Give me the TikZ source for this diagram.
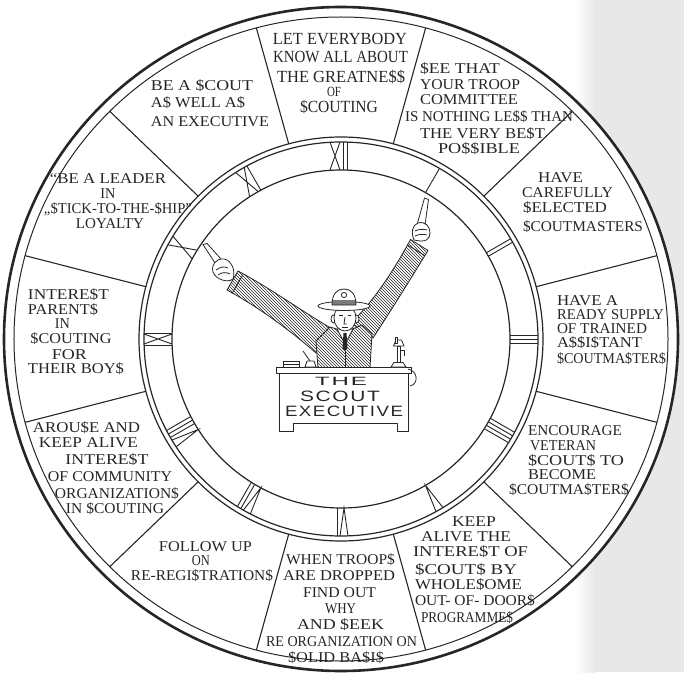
\documentclass[tikz,border=0pt]{standalone}
\usepackage{fontspec}
\usepackage{graphicx}
\setmainfont{Liberation Serif}
\newfontfamily\desksans[LetterSpace=8]{Liberation Sans}
\usetikzlibrary{patterns}

\definecolor{ink}{HTML}{262626}
\definecolor{pagegrey}{HTML}{E8E8E8}

\tikzset{
  rim/.style={draw=ink, line width=2.6pt},
  rimin/.style={draw=ink, line width=1.0pt},
  ringline/.style={draw=ink, line width=1.2pt},
  divider/.style={draw=ink, line width=1.1pt},
  numstroke/.style={draw=ink, line width=0.9pt},
  segtext/.style={anchor=base, inner sep=0pt, outer sep=0pt, text=ink, text depth=0pt,
    font=\fontsize{15}{15}\selectfont},
  desktext/.style={anchor=base, inner sep=0pt, outer sep=0pt, text=ink, text depth=0pt,
    font=\desksans\fontsize{15}{15}\selectfont},
  figline/.style={draw=ink, line width=0.8pt, line join=round},
  sleeve/.style={figline, preaction={fill=white}, pattern=north west lines, pattern color=ink},
  plain/.style={figline, fill=white},
}

% stretch a line of lettering to a given width, keeping its height
\newsavebox\segbox
\newcommand\fitw[2]{\sbox\segbox{#2}\scalebox{\fpeval{(#1)/(\the\wd\segbox)}}[1]{\usebox\segbox}}
% one hand-lettered line: name, centre x, baseline y, width, text
\newcommand\segline[5]{\node[segtext] (#1) at (#2,#3) {\fitw{#4}{#5}};}
% strokes of the clock numerals, in (tangent, radius) coordinates
\newcommand\clkI[1]{\draw[numstroke] (#1,169) -- (#1,197);}
\newcommand\clkV[1]{\draw[numstroke] ({#1-4},197) -- (#1,169) -- ({#1+4},197);}
\newcommand\clkX[1]{\draw[numstroke] ({#1-5},169) -- ({#1+5},197) ({#1-5},197) -- ({#1+5},169);}

\begin{document}
\begin{tikzpicture}[x=1pt,y=1pt]
\useasboundingbox (-341,-333) rectangle (343,339);
\fill[white] (-341,-333) rectangle (343,339);
\shade[left color=white, right color=pagegrey] (234,-333) rectangle (254,339);
\fill[pagegrey] (254,-333) rectangle (343,339);

% the wheel
\fill[white] (0,0) ellipse [x radius=337, y radius=332];
\draw[rim] (0,0) ellipse [x radius=337, y radius=332];
\draw[rimin] (0,0) ellipse [x radius=327, y radius=322];

\foreach \a in {15,45,...,345}
  \draw[divider] (\a:202) -- (\a:327 and 322);

% clock ring
\draw[ringline] (0,0) circle [radius=202];
\draw[ringline] (0,0) circle [radius=197];
\draw[ringline] (0,0) circle [radius=169];

\begin{scope}[rotate=0]    \clkX{-6}\clkI{2}\clkI{6} \end{scope}
\begin{scope}[rotate=-30]  \clkI{0} \end{scope}
\begin{scope}[rotate=-60]  \clkI{-2}\clkI{2} \end{scope}
\begin{scope}[rotate=-90]  \clkI{-4}\clkI{0}\clkI{4} \end{scope}
\begin{scope}[rotate=-120] \clkI{-6}\clkI{-2}\clkI{2}\clkI{6} \end{scope}
\begin{scope}[rotate=-150] \clkV{0} \end{scope}
\begin{scope}[rotate=-180] \clkV{-3}\clkI{4} \end{scope}
\begin{scope}[rotate=-210] \clkV{-5}\clkI{2}\clkI{6} \end{scope}
\begin{scope}[rotate=-240] \clkV{-7}\clkI{0}\clkI{4}\clkI{8} \end{scope}
\begin{scope}[rotate=-270] \clkI{-6}\clkX{0}\clkI{6} \end{scope}
\begin{scope}[rotate=-300] \clkX{0} \end{scope}
\begin{scope}[rotate=-330] \clkX{-3}\clkI{5} \end{scope}

% page coordinates from here on: x to the right, y downwards
\begin{scope}[shift={(-341,339)}, y=-1pt]

% ---- the scout executive ----
% sleeves
\draw[sleeve] (238,271) .. controls (270,288) and (300,310) .. (329,327)
  -- (316,353) .. controls (290,330) and (255,305) .. (227,290) -- cycle;
\draw[figline] (243,274.5) -- (232,293.5);
\draw[sleeve] (410.5,239.5) -- (428,250.5) .. controls (410,280) and (390,312) .. (373,338)
  -- (351,323) .. controls (375,300) and (395,268) .. cycle;
\draw[figline] (407.3,244.8) -- (424.8,255.6);
% pointing hands
\draw[plain] (215,263) -- (203,244.5) -- (207,243.5) -- (221,259) -- cycle;
\draw[plain] (233,279) .. controls (228,283) and (216,280) .. (213,272)
  .. controls (211,265) and (216,258) .. (224,259)
  .. controls (231,260) and (236,270) .. cycle;
\draw[figline] (216,270) .. controls (220,267) and (224,266) .. (228,268)
  (218,275) .. controls (222,272) and (226,272) .. (230,274);
\draw[plain] (417,225) -- (424.5,198) -- (428.5,199.5) -- (425,225) -- cycle;
\draw[plain] (414,240) .. controls (411,233) and (412,225) .. (418,223)
  .. controls (425,221) and (430,226) .. (430,233)
  .. controls (430,239) and (426,243) .. cycle;
\draw[figline] (415,231) .. controls (419,229) and (423,229) .. (427,230)
  (415,236) .. controls (419,234) and (423,234) .. (427,235);
% body
\draw[sleeve] (316,341) -- (330,327) -- (340,330) -- (350,330) -- (362,325) -- (372,334) -- (370,368) -- (318,368) -- cycle;
\draw[plain] (337,329) -- (345,344) -- (353,329) -- cycle;
\fill[ink] (343.5,333) -- (346.5,333) -- (347.5,348) -- (345,351) -- (342.5,348) -- cycle;
\draw[figline] (345,351) -- (345,368);
% head and hat
\draw[plain] (333.5,319) ellipse [x radius=2.5, y radius=4];
\draw[plain] (356.5,319) ellipse [x radius=2.5, y radius=4];
\draw[plain] (345,318) ellipse [x radius=11, y radius=13];
\draw[figline] (339,315) -- (342.5,315) (347.5,315) -- (351,315);
\draw[figline] (345,317) -- (344,324) -- (346.5,324);
\draw[figline] (342,327.5) -- (348,327.5);
\draw[plain] (344,306) ellipse [x radius=26, y radius=4.5];
\draw[plain] (332,305) .. controls (332,294) and (337,289) .. (344,289)
  .. controls (351,289) and (356,294) .. (356,305) -- cycle;
\fill[ink, opacity=0.6] (332.3,300) -- (355.7,300) -- (356,305) -- (332,305) -- cycle;
\draw[figline] (344,295) circle [radius=2.6];
% desk
\draw[plain] (279,373) -- (408,373) -- (408,431) -- (397,431) -- (397,423)
  -- (293,423) -- (293,431) -- (279,431) -- cycle;
\draw[plain] (276,367) rectangle (411,373);
% things on the desk
\draw[plain] (283,361.5) rectangle (299,367);
\draw[figline] (283,364) -- (299,364);
\draw[plain] (305,367) -- (307,361) -- (314,361) -- (316,367) -- cycle;
\draw[figline] (303,351) -- (310,361);
\draw[plain] (391,367) -- (394,362.5) -- (403,362.5) -- (406,367) -- cycle;
\draw[plain] (397,362.5) rectangle (400.5,346);
\draw[plain] (393.5,346) -- (404,346) -- (401.5,340) -- (396,340) -- cycle;
\draw[plain] (395,337) rectangle (397.5,343);
\draw[figline] (400.5,350) -- (404,350) -- (404,356);
\draw[figline] (408,369) .. controls (418,371) and (419,384) .. (410,386);

\node[desktext, font=\desksans\fontsize{12}{12}\selectfont] (dTHE) at (341,385.5) {\fitw{52}{THE}};
\node[desktext] (dSCOUT) at (340,401.5) {\fitw{80}{SCOUT}};
\node[desktext] (dEXEC) at (344,416.5) {\fitw{118}{EXECUTIVE}};

% ---- the twelve duties ----
\segline{tA1}{340}{45}{134}{\fontsize{17}{17}\selectfont LET EVERYBODY}
\segline{tA2}{340.5}{63}{135}{\fontsize{17}{17}\selectfont KNOW ALL ABOUT}
\segline{tA3}{341}{83}{128}{\fontsize{17}{17}\selectfont THE GREATNE\$\$}
\segline{tA4}{334}{97}{14}{\fontsize{14}{14}\selectfont OF}
\segline{tA5}{339}{113}{78}{\fontsize{17}{17}\selectfont \$COUTING}

\segline{tB1}{460}{74}{80}{\$EE THAT}
\segline{tB2}{470}{90}{100}{YOUR TROOP}
\segline{tB3}{469}{105}{98}{COMMITTEE}
\segline{tB4}{489}{122}{168}{IS NOTHING LE\$\$ THAN}
\segline{tB5}{482.5}{139}{125}{THE VERY BE\$T}
\segline{tB6}{479}{154}{82}{PO\$\$IBLE}

\segline{tC1}{560.5}{182}{45}{HAVE}
\segline{tC2}{567.5}{197}{91}{CAREFULLY}
\segline{tC3}{565}{212}{84}{\$ELECTED}
\segline{tC4}{583}{231}{120}{\$COUTMASTERS}

\segline{tD1}{587.5}{305}{61}{HAVE A}
\segline{tD2}{610.5}{319}{107}{READY SUPPLY}
\segline{tD3}{602}{333}{90}{OF TRAINED}
\segline{tD4}{599.5}{347.5}{85}{A\$\$I\$TANT}
\segline{tD5}{611.5}{363.5}{109}{\$COUTMA\$TER\$}

\segline{tE1}{575}{435}{94}{ENCOURAGE}
\segline{tE2}{563}{450}{66}{VETERAN}
\segline{tE3}{576}{465}{96}{\$COUT\$ TO}
\segline{tE4}{562}{479.5}{68}{BECOME}
\segline{tE5}{569}{494}{120}{\$COUTMA\$TER\$}

\segline{tF1}{474}{526}{44}{KEEP}
\segline{tF2}{466}{541}{90}{ALIVE THE}
\segline{tF3}{470.5}{556.5}{115}{INTERE\$T OF}
\segline{tF4}{466}{574}{102}{\$COUT\$ BY}
\segline{tF5}{468.5}{589}{107}{WHOLE\$OME}
\segline{tF6}{475}{605}{120}{OUT- OF- DOOR\$}
\segline{tF7}{467}{622}{92}{PROGRAMME\$}

\segline{tG1}{340.5}{564}{109}{WHEN TROOP\$}
\segline{tG2}{339}{580}{112}{ARE DROPPED}
\segline{tG3}{339.5}{597}{73}{FIND OUT}
\segline{tG4}{340.5}{613}{31}{WHY}
\segline{tG5}{340.5}{629.5}{87}{AND \$EEK}
\segline{tG6}{341.5}{646}{151}{RE ORGANIZATION ON}
\segline{tG7}{336}{662}{96}{\$OLID BA\$I\$}

\segline{tH1}{205.5}{551}{93}{FOLLOW UP}
\segline{tH2}{201}{565}{18}{ON}
\segline{tH3}{202}{580.5}{142}{RE-REGI\$TRATION\$}

\segline{tI1}{86.5}{432}{107}{AROU\$E AND}
\segline{tI2}{88.5}{447}{99}{KEEP ALIVE}
\segline{tI3}{107}{464}{83}{INTERE\$T}
\segline{tI4}{110}{481}{124}{OF COMMUNITY}
\segline{tI5}{117}{498.5}{124}{ORGANIZATION\$}
\segline{tI6}{115}{513.5}{98}{IN \$COUTING}

\segline{tJ1}{68.5}{299}{81}{INTERE\$T}
\segline{tJ2}{63}{314}{70}{PARENT\$}
\segline{tJ3}{62.5}{328}{15}{IN}
\segline{tJ4}{71}{343}{81}{\$COUTING}
\segline{tJ5}{69.5}{359}{35}{FOR}
\segline{tJ6}{76}{373}{96}{THEIR BOY\$}

\segline{tK1}{108}{184}{116}{“BE A LEADER}
\segline{tK2}{108}{199}{15}{IN}
\segline{tK3}{118}{214}{148}{„\$TICK-TO-THE-\$HIP”}
\segline{tK4}{110}{228}{68}{LOYALTY}

\segline{tL1}{202}{91}{102}{BE A \$COUT}
\segline{tL2}{198}{108}{94}{A\$ WELL A\$}
\segline{tL3}{210}{127}{118}{AN EXECUTIVE}
\end{scope}
\end{tikzpicture}
\end{document}
